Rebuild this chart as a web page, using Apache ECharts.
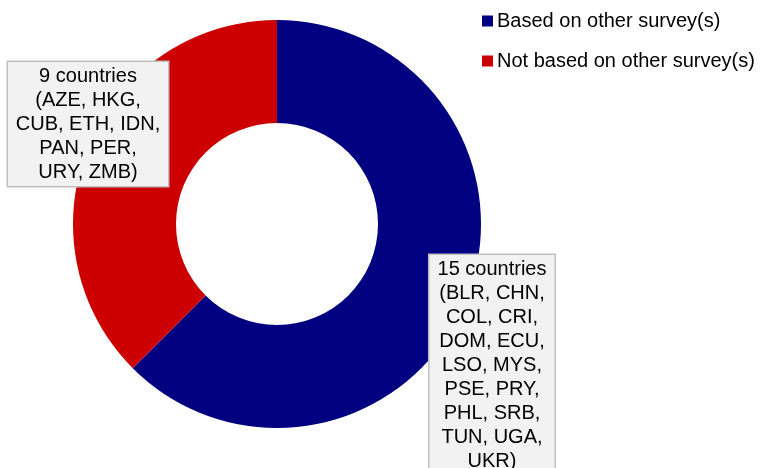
<!DOCTYPE html>
<html><head><meta charset="utf-8">
<script src="https://cdn.jsdelivr.net/npm/echarts@6/dist/echarts.min.js"></script>
<style>html,body{margin:0;padding:0;background:#fff}#c{width:760px;height:468px}</style>
</head><body><div id="c"></div>
<script>
const categories = ['Based on other survey(s)', 'Not based on other survey(s)'];
const values = [15, 9];
const labelTexts = [
  '15 countries\n(BLR, CHN,\nCOL, CRI,\nDOM, ECU,\nLSO, MYS,\nPSE, PRY,\nPHL, SRB,\nTUN, UGA,\nUKR)',
  '9 countries\n(AZE, HKG,\nCUB, ETH, IDN,\nPAN, PER,\nURY, ZMB)'
];
const colors = ['#000080', '#CC0000'];
const labelPos = [{x: 492, y: 255, v: 'top', w: 113}, {x: 88, y: 124, v: 'middle', w: 148}];

const chart = echarts.init(document.getElementById('c'));
chart.setOption({
  animation: false,
  textStyle: {fontFamily: 'Liberation Sans, Arial, sans-serif'},
  legend: {
    orient: 'vertical', left: 477, top: 4, itemWidth: 11, itemHeight: 11, itemGap: 16,
    icon: 'rect',
    textStyle: {fontSize: 20, lineHeight: 24, color: '#000', fontFamily: 'Liberation Sans, Arial, sans-serif', padding: [0,0,0,-1]},
    data: categories
  },
  series: [{
    type: 'pie',
    center: [277, 224],
    radius: [101, 204],
    startAngle: 90,
    clockwise: true,
    labelLine: {show: false},
    label: {
      show: true,
      position: 'outside',
      overflow: 'none',
      formatter: p => labelTexts[p.dataIndex],
      fontSize: 20, lineHeight: 24, color: '#000',
      fontFamily: 'Liberation Sans, Arial, sans-serif',
      align: 'center',
      backgroundColor: '#F2F2F2', borderColor: '#BFBFBF', borderWidth: 1.5,
      padding: [2, 6, 2, 6]
    },
    labelLayout: p => ({x: labelPos[p.dataIndex].x, y: labelPos[p.dataIndex].y, align: 'center', verticalAlign: labelPos[p.dataIndex].v}),
    emphasis: {disabled: true},
    data: categories.map((n, i) => ({name: n, value: values[i], itemStyle: {color: colors[i]}, label: {width: labelPos[i].w}}))
  }]
});
</script></body></html>
